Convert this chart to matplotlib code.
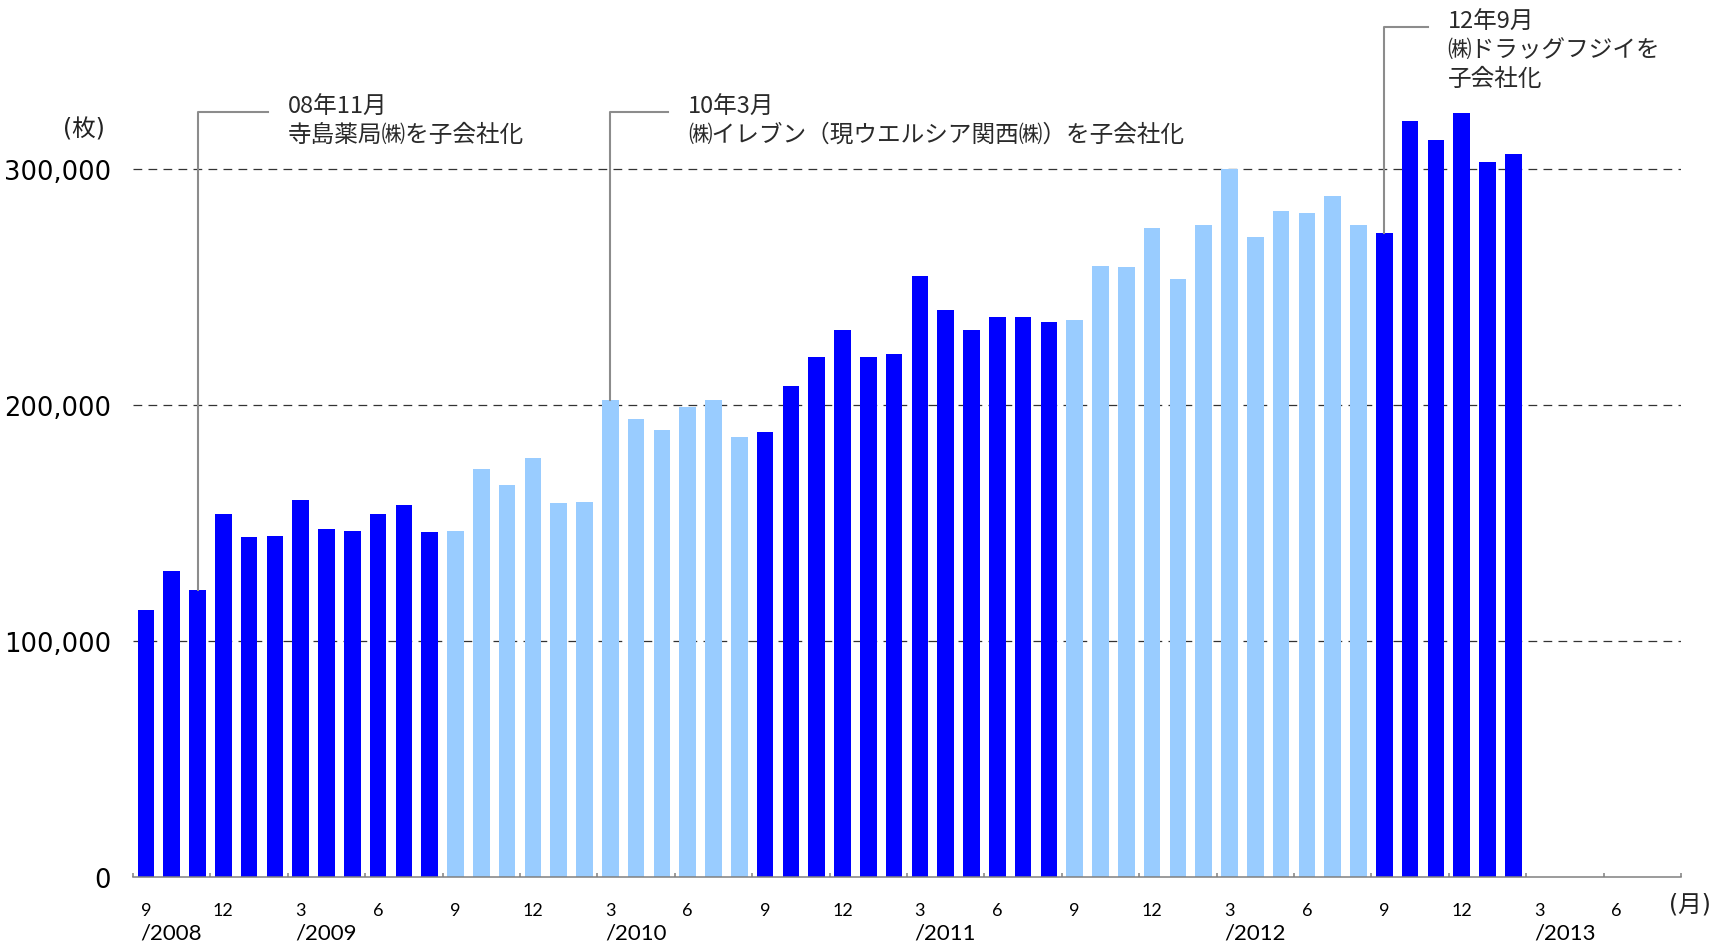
import matplotlib.pyplot as plt
import matplotlib.transforms as mtransforms
import numpy as np

# monthly counts, Sep 2008 - Feb 2013 (unit: 枚)
values = [113000, 129600, 121500, 153800,
          144100, 144500, 159700, 147500, 146600, 153800, 157600, 146200,
          146600, 172900, 166100, 177500,
          158500, 158900, 202100, 194100, 189400, 199200, 202100, 186400,
          188600, 208100, 220300, 231800,
          220300, 221600, 254700, 240300, 231800, 237300, 237300, 235200,
          236000, 258900, 258500, 275000,
          253400, 276300, 300000, 271200, 282200, 281400, 288600, 276300,
          272900, 320300, 312300, 323700,
          303000, 306400]

n_slots = 60  # axis runs Sep 2008 .. Aug 2013
month_labels = ['9', '12', '3', '6'] * 5
year_labels = ['/2008', '/2009', '/2010', '/2011', '/2012', '/2013']
y_ticks = [0, 100000, 200000, 300000]

# (bar index, text lines)
notes = [
    (2, ['08年11月', '寺島薬局㈱を子会社化']),
    (18, ['10年3月', '㈱イレブン（現ウエルシア関西㈱）を子会社化']),
    (48, ['12年9月', '㈱ドラッグフジイを', '子会社化']),
]
note_elbow_y = [324000, 324000, 360000]
note_end_x = [4.75, 20.25, 49.7]

dark = '#0000FF'
light = '#99CCFF'
jp = ['Noto Sans CJK JP', 'DejaVu Sans']
jp_paren = ['DejaVu Sans', 'Noto Sans CJK JP']

fig = plt.figure(figsize=(17.13, 9.45), dpi=100)
ax = fig.add_axes([133 / 1713, 67 / 945, 1548 / 1713, 878 / 945])

x = np.arange(len(values))
colors = [dark if (i // 12) % 2 == 0 else light for i in x]
ax.bar(x, values, width=0.65, color=colors, zorder=2)

ax.set_xlim(-0.5, n_slots - 0.5)
ax.set_ylim(0, 372000)

# y axis
ax.set_yticks(y_ticks)
ax.set_yticklabels([f'{v:,}' for v in y_ticks], fontsize=18.5, family='DejaVu Sans')
ax.tick_params(axis='y', length=0, pad=16)
for v in y_ticks[1:]:
    ax.axhline(v, color='#333333', lw=0.9, ls=(0, (7, 5)), zorder=1)

for s in ['top', 'right', 'left']:
    ax.spines[s].set_visible(False)
ax.spines['bottom'].set_color('#808080')
ax.spines['bottom'].set_linewidth(1.1)

# x axis: labels at quarter months, tick marks at quarter boundaries
ax.set_xticks(np.arange(0, n_slots, 3))
ax.set_xticklabels(month_labels, fontsize=13, family='Lato')
ax.tick_params(axis='x', which='major', length=0, pad=18)
ax.set_xticks(np.arange(-0.5, n_slots, 3), minor=True)
ax.tick_params(axis='x', which='minor', direction='in', length=3, width=1.1, color='#808080')

trans = mtransforms.blended_transform_factory(ax.transData, ax.transAxes)
year_pos = [0] + [6 + 12 * k for k in range(5)]
for pos, lab in zip(year_pos, year_labels):
    ax.text(pos - 0.2, -56 / 878, lab, transform=trans, ha='left', va='center',
            fontsize=16, family='Lato')

ax.text(1669 / 1713, 1 - 905 / 945, '(月)', transform=fig.transFigure, ha='left', va='center',
        fontsize=17, family=jp_paren, color='#222222')
ax.text(84 / 1713, 1 - 130 / 945, '(枚)', transform=fig.transFigure, ha='center', va='center',
        fontsize=17, family=jp_paren, color='#222222')

# leader lines and notes
for (idx, lines), ey, ex in zip(notes, note_elbow_y, note_end_x):
    ax.plot([idx, idx, ex], [values[idx], ey, ey], color='#8c8c8c', lw=1.5,
            clip_on=False, zorder=3)
    for k, line in enumerate(lines):
        ax.annotate(line, xy=(ex, ey), xytext=(14, 4.5 - k * 20.5), textcoords='offset points',
                    ha='left', va='center', fontsize=17, family=jp, color='#2a2a2a',
                    annotation_clip=False)

fig.savefig('out.png', dpi=100)
